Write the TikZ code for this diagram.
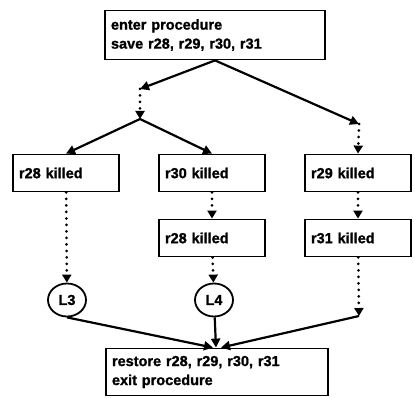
\documentclass[tikz,border=0pt]{standalone}
\usepackage{fontspec}
\setmainfont{Liberation Sans}
\newfontfamily\heavyfont{Liberation Sans Bold}[FakeBold=1.2]
\usepackage{tikz}
\usetikzlibrary{arrows.meta, shapes.geometric}

\begin{document}
\begin{tikzpicture}[
		x=1pt, y=-1pt,
		txt/.style={font=\fontsize{14.5}{19}\selectfont\heavyfont},
		box/.style={draw, line width=1.8pt, txt, inner xsep=6pt, align=left, text width=#1, minimum height=37pt},
		lab/.style={draw, ellipse, line width=1.8pt, txt, inner sep=0pt, minimum width=38pt, minimum height=33pt},
		flow/.style={line width=2.2pt, -{Triangle[length=9pt, width=9pt]}},
		dots/.style={line width=3pt, line cap=round, dash pattern=on 0pt off 6.5pt, -{Triangle[length=8pt, width=9pt]}}
	]
		\useasboundingbox (0,0) rectangle (415,398);

		% ===== entry =====
		\node[box=208pt, minimum height=49pt] (enter) at (215,35) {enter procedure\\save r28, r29, r30, r31};

		% join points
		\coordinate (jA) at (140,89);
		\coordinate (jB) at (140,119);
		\coordinate (jC) at (359,124);

		\draw[flow] (enter.south) -- (jA);
		\draw[flow] (enter.south) -- (jC);
		\draw[dots] (jA) -- (jB);

		% ===== killed registers =====
		\node[box=94pt] (k28) at (66,173) {r28 killed};
		\node[box=94pt] (k30) at (212,173) {r30 killed};
		\node[box=94pt] (k29) at (358,173) {r29 killed};
		\node[box=94pt] (k28b) at (212,238) {r28 killed};
		\node[box=94pt] (k31) at (358,238) {r31 killed};

		\draw[flow] (jB) -- (k28.north);
		\draw[flow] (jB) -- (k30.north);
		\draw[dots] (jC) -- (k29.north);
		\draw[dots] (k30) -- (k28b);
		\draw[dots] (k29) -- (k31);

		% ===== labels =====
		\node[lab] (L3) at (67,300) {L3};
		\node[lab] (L4) at (214,300) {L4};
		\coordinate (jD) at (359,316);

		\draw[dots] (k28) -- (L3);
		\draw[dots] (k28b) -- (L4);
		\draw[dots] (k31) -- (jD);

		% ===== exit =====
		\node[box=210pt, minimum height=47pt] (exit) at (217,372) {restore r28, r29, r30, r31\\exit procedure};

		\draw[flow] (L3.south) -- ([xshift=-4pt]exit.north);
		\draw[flow] (L4) -- (exit);
		\draw[flow] (jD) -- ([xshift=4pt]exit.north);
	\end{tikzpicture}
\end{document}
